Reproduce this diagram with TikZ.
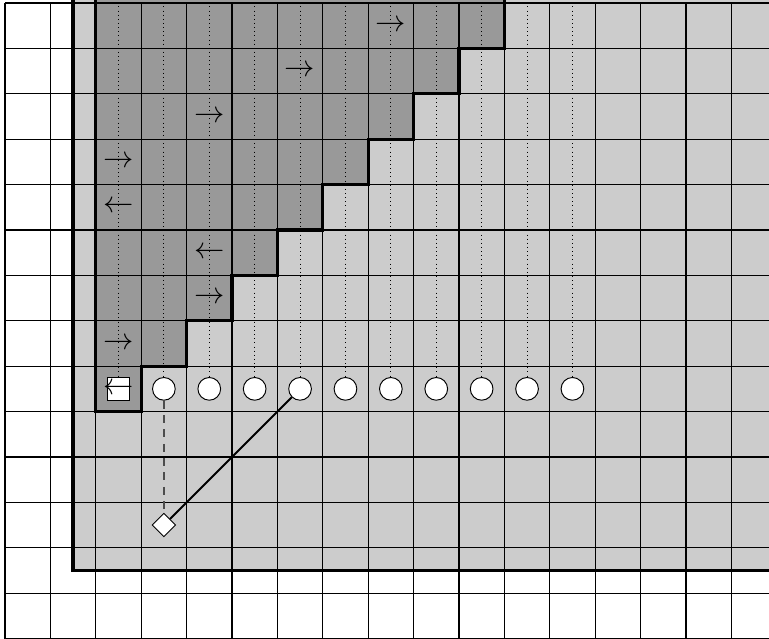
\documentclass[tikz,border=0pt]{standalone}
\usetikzlibrary{shapes.geometric}
\tikzset{
  gridline/.style={line width=0.75pt, black},
  thickline/.style={line width=2pt, black, line join=miter},
  dotline/.style={line width=0.6pt, black, dotted},
  spot/.style={circle, draw=black, line width=0.6pt, fill=white, minimum size=0.5cm, inner sep=0pt},
  boxnode/.style={rectangle, draw=black, line width=0.6pt, fill=white, minimum size=0.5cm, inner sep=0pt},
  gem/.style={diamond, draw=black, line width=0.6pt, fill=white, minimum width=0.52cm, minimum height=0.52cm, inner sep=0pt},
  arr/.style={inner sep=0pt, font=\LARGE, scale=1.1}
}
\definecolor{lightg}{gray}{0.80}
\definecolor{darkg}{gray}{0.60}
\begin{document}
\begin{tikzpicture}
\useasboundingbox (-0.11,0.066) rectangle (16.83,-14.0);
\clip (-0.11,0.066) rectangle (16.83,-14.0);
% fills
\fill[lightg] (1.5,0.2) rectangle (17,-12.5);
\fill[darkg] (2,0.2) -- (2,-9) -- (3,-9) -- (3,-8) -- (4,-8) -- (4,-7) -- (5,-7) -- (5,-6)
  -- (6,-6) -- (6,-5) -- (7,-5) -- (7,-4) -- (8,-4) -- (8,-3) -- (9,-3) -- (9,-2)
  -- (10,-2) -- (10,-1) -- (11,-1) -- (11,0.2) -- cycle;
% grid
\draw[gridline] (0,0) grid (17,-14);
% nodes
\node[boxnode] (s) at (2.5,-8.5) {};
\foreach \i in {3,...,12} {
  \node[spot] (c\i) at (\i.5,-8.5) {};
}
\node[gem] (d) at (3.5,-11.5) {};
% dotted lines
\coordinate (t2) at (2.5,0.2);
\draw[dotline] (t2) -- (s.north);
\foreach \i in {3,...,12} {
  \coordinate (t\i) at (\i.5,0.2);
  \draw[dotline] (t\i) -- (c\i.north);
}
% thick outlines
\draw[thickline] (1.5,0.2) -- (1.5,-12.5) -- (17,-12.5);
\draw[thickline] (2,0.2) -- (2,-9) -- (3,-9) -- (3,-8) -- (4,-8) -- (4,-7) -- (5,-7) -- (5,-6)
  -- (6,-6) -- (6,-5) -- (7,-5) -- (7,-4) -- (8,-4) -- (8,-3) -- (9,-3) -- (9,-2)
  -- (10,-2) -- (10,-1) -- (11,-1) -- (11,0.2);
% connectors
\draw[line width=0.8pt, black!70, dash pattern=on 5pt off 4pt] (c3.south) -- (d.north);
\draw[line width=1.2pt, black] (c6) -- (d);
% arrows
\node[arr] (a1) at (8.5,-0.5) {$\rightarrow$};
\node[arr] (a2) at (6.5,-1.5) {$\rightarrow$};
\node[arr] (a3) at (4.5,-2.5) {$\rightarrow$};
\node[arr] (a4) at (2.5,-3.5) {$\rightarrow$};
\node[arr] (a5) at (2.5,-4.5) {$\leftarrow$};
\node[arr] (a6) at (4.5,-5.5) {$\leftarrow$};
\node[arr] (a7) at (4.5,-6.5) {$\rightarrow$};
\node[arr] (a8) at (2.5,-7.5) {$\rightarrow$};
\node[arr] (a9) at (2.5,-8.5) {$\leftarrow$};
\end{tikzpicture}
\end{document}
